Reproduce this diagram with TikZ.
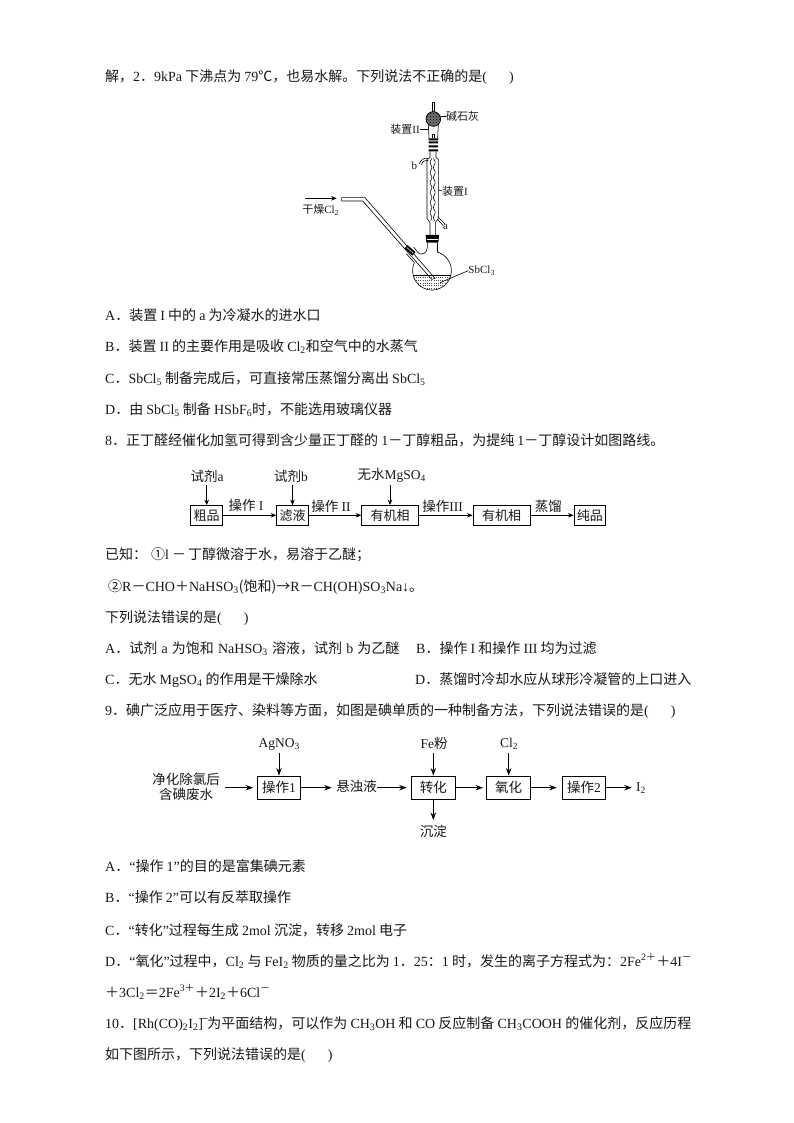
\documentclass[tikz,border=0pt]{standalone}
\usepackage{fontspec}
\usetikzlibrary{arrows.meta,patterns}
\setmainfont{Noto Sans CJK SC}
\newfontfamily\latf{Liberation Serif}
\newcommand{\lat}[1]{{\latf #1}}
\definecolor{txt}{gray}{0.1}
\tikzset{
  line/.style={anchor=base west,inner sep=0pt,text=txt,font=\fontsize{14}{16}\selectfont},
  lab/.style={inner sep=0pt,text=txt,font=\fontsize{13.5}{15.5}\selectfont,align=center},
  labs/.style={inner sep=0pt,text=txt,font=\fontsize{11}{13}\selectfont},
  boxa/.style={draw=black,line width=0.8pt,inner sep=0pt,text=txt,font=\fontsize{13}{15}\selectfont,minimum height=19.5pt},
  boxb/.style={draw=black,line width=0.8pt,inner sep=0pt,text=txt,font=\fontsize{13.5}{15}\selectfont,minimum height=23.5pt},
  arr/.style={line width=0.7pt,-{Stealth[length=5.5pt,width=4.5pt]}},
  arrb/.style={line width=0.8pt,-{Stealth[length=7.5pt,width=5.5pt]}},
  glass/.style={line width=0.6pt,line join=round},
  lead/.style={line width=0.6pt},
}
\begin{document}
\begin{tikzpicture}[x=1pt,y=-1pt]
\useasboundingbox[fill=white] (0,0) rectangle (794,1123);
% body text
\node[line] (l1) at (105,82) {解，\lat{2}．\lat{9kPa} 下沸点为 \lat{79}℃，也易水解。下列说法不正确的是\lat{(\hspace{22pt})}};
\node[line] (l2) at (105,320) {\lat{A}．装置 \lat{I} 中的 \lat{a} 为冷凝水的进水口};
\node[line] (l3) at (105,351) {\lat{B}．装置 \lat{II} 的主要作用是吸收 \lat{Cl\textsubscript{2}}和空气中的水蒸气};
\node[line] (l4) at (105,383) {\lat{C}．\lat{SbCl\textsubscript{5}} 制备完成后，可直接常压蒸馏分离出 \lat{SbCl\textsubscript{5}}};
\node[line] (l5) at (105,414) {\lat{D}．由 \lat{SbCl\textsubscript{5}} 制备 \lat{HSbF\textsubscript{6}}时，不能选用玻璃仪器};
\node[line] (l6) at (105,445) {\lat{8}．正丁醛经催化加氢可得到含少量正丁醛的 \lat{1}－丁醇粗品，为提纯 \lat{1}－丁醇设计如图路线。};
\node[line] (l7) at (105,559) {已知：\hspace{4pt}①\lat{l}\hspace{3pt}－\hspace{2pt}丁醇微溶于水，易溶于乙醚；};
\node[line] (l8) at (108,591) {②\lat{R}－\lat{CHO}＋\lat{NaHSO\textsubscript{3}}(饱和)→\lat{R}－\lat{CH(OH)SO\textsubscript{3}Na↓}。};
\node[line] (l9) at (105,622) {下列说法错误的是\lat{(\hspace{22pt})}};
\node[line] (l10) at (105,653) {\spaceskip=4.2pt \lat{A}．试剂 \lat{a} 为饱和 \lat{NaHSO\textsubscript{3}} 溶液，试剂 \lat{b} 为乙醚};
\node[line] (l10b) at (416,653) {\lat{B}．操作 \lat{I} 和操作 \lat{III} 均为过滤};
\node[line] (l11) at (105,684) {\lat{C}．无水 \lat{MgSO\textsubscript{4}} 的作用是干燥除水};
\node[line] (l11b) at (415,684) {\lat{D}．蒸馏时冷却水应从球形冷凝管的上口进入};
\node[line] (l12) at (105,715) {\lat{9}．碘广泛应用于医疗、染料等方面，如图是碘单质的一种制备方法，下列说法错误的是\lat{(\hspace{22pt})}};
\node[line] (l13) at (105,871) {\lat{A}．\lat{“}操作 \lat{1”}的目的是富集碘元素};
\node[line] (l14) at (105,902) {\lat{B}．\lat{“}操作 \lat{2”}可以有反萃取操作};
\node[line] (l15) at (105,935) {\lat{C}．\lat{“}转化\lat{”}过程每生成 \lat{2mol} 沉淀，转移 \lat{2mol} 电子};
\node[line] (l16) at (105,966) {\lat{D}．\lat{“}氧化\lat{”}过程中，\lat{Cl\textsubscript{2}} 与 \lat{FeI\textsubscript{2}} 物质的量之比为 \lat{1}．\lat{25}：\lat{1} 时，发生的离子方程式为：\lat{2Fe}\textsuperscript{\lat{2}＋}＋\lat{4I}\textsuperscript{－}};
\node[line] (l17) at (105,997) {＋\lat{3Cl\textsubscript{2}}＝\lat{2Fe}\textsuperscript{\lat{3}＋}＋\lat{2I\textsubscript{2}}＋\lat{6Cl}\textsuperscript{－}};
\node[line] (l18) at (105,1028) {\lat{10}．\lat{[Rh(CO)\textsubscript{2}I\textsubscript{2}]}\hspace{-4pt}\textsuperscript{－}\hspace{-2pt}为平面结构，可以作为 \lat{CH\textsubscript{3}OH} 和 \lat{CO} 反应制备 \lat{CH\textsubscript{3}COOH} 的催化剂，反应历程};
\node[line] (l19) at (105,1059) {如下图所示，下列说法错误的是\lat{(\hspace{22pt})}};
% route diagram 8
\node[boxa,minimum width=32pt] (a1) at (206.7,515.3) {粗品};
\node[boxa,minimum width=31.6pt] (a2) at (292.5,515.3) {滤液};
\node[boxa,minimum width=56.6pt] (a3) at (390,515.3) {有机相};
\node[boxa,minimum width=57pt] (a4) at (501.5,515.3) {有机相};
\node[boxa,minimum width=31.7pt] (a5) at (589.8,515.3) {纯品};
\node[lab] (ra) at (207,476.7) {试剂\lat{a}};
\node[lab] (rb) at (291,476.7) {试剂\lat{b}};
\node[lab] (rc) at (391.7,475) {无水\lat{MgSO\textsubscript{4}}};
\coordinate (ra1) at (206.7,485);
\coordinate (rb1) at (292.5,485);
\coordinate (rc1) at (390,485);
\draw[arr] (ra1) -- (a1.north);
\draw[arr] (rb1) -- (a2.north);
\draw[arr] (rc1) -- (a3.north);
\draw[arr] (a1) -- (a2);
\draw[arr] (a2) -- (a3);
\draw[arr] (a3) -- (a4);
\draw[arr] (a4) -- (a5);
\node[lab] (o1) at (246,505) {操作 \lat{I}};
\node[lab] (o2) at (331,506.7) {操作 \lat{II}};
\node[lab] (o3) at (442.7,506.7) {操作\lat{III}};
\node[lab] (o4) at (548.3,506.7) {蒸馏};
% route diagram 9
\node[lab] (b0) at (186,786.7) {净化除氯后\\含碘废水};
\node[boxb,minimum width=43.4pt] (b1) at (279,787.7) {操作\lat{1}};
\node[lab] (b2) at (356.7,786.7) {悬浊液};
\node[boxb,minimum width=43.3pt] (b3) at (433.3,787.7) {转化};
\node[boxb,minimum width=44pt] (b4) at (508.7,787.7) {氧化};
\node[boxb,minimum width=42.6pt] (b5) at (584,787.7) {操作\lat{2}};
\node[lab] (b6) at (641,788) {\lat{I\textsubscript{2}}};
\node[lab] (t1) at (279.3,744) {\lat{AgNO\textsubscript{3}}};
\node[lab] (t3) at (434,743.3) {\lat{Fe}粉};
\node[lab] (t4) at (509,744) {\lat{Cl\textsubscript{2}}};
\node[lab] (t5) at (433.3,831.7) {沉淀};
\coordinate (t1a) at (279,752.5);
\coordinate (t3a) at (433.3,752.5);
\coordinate (t4a) at (508.7,752.5);
\coordinate (t5a) at (433.3,820);
\draw[arrb] (t1a) -- (b1.north);
\draw[arrb] (t3a) -- (b3.north);
\draw[arrb] (t4a) -- (b4.north);
\draw[arrb] (b3.south) -- (t5a);
\coordinate (c0) at (225,787.7);
\coordinate (c1) at (253,787.7);
\coordinate (c2) at (331.7,787.7);
\coordinate (c3) at (377,787.7);
\coordinate (c4) at (406.7,787.7);
\coordinate (c5) at (483,787.7);
\coordinate (c6) at (556.7,787.7);
\coordinate (c7) at (631.7,787.7);
\draw[arrb] (c0) -- (c1);
\draw[arrb] (b1.east) -- (c2);
\draw[arrb] (c3) -- (c4);
\draw[arrb] (b3.east) -- (c5);
\draw[arrb] (b4.east) -- (c6);
\draw[arrb] (b5.east) -- (c7);
% apparatus, in zoom coordinates
\begin{scope}[shift={(280,90)},x=0.33333pt,y=-0.33333pt]
 % top tube and bulb
 \draw[glass] (456,68) -- (456,36) -- (464,36) -- (464,68);
 \draw[glass] (445,103) -- (447,145) (475,103) -- (473,145);
 \draw[glass] (456,145) -- (456,132) -- (464,132) -- (464,145);
 \fill[black!55] (460,87) circle (22);
 \fill[pattern=crosshatch dots,pattern color=black] (460,87) circle (22);
 \draw[line width=0.7pt] (460,87) circle (22);
 \fill[black] (446,145) rectangle (474,151) (446,154) rectangle (474,160) (446,166) rectangle (474,172) (446,178) rectangle (474,184);
 % condenser
 \draw[glass] (450,184) -- (450,203) -- (441,208) -- (441,385) -- (450,398) -- (450,435);
 \draw[glass] (468,184) -- (468,203) -- (475,208) -- (475,385) -- (466,398) -- (466,435);
 \draw[glass,domain=205:392,samples=90,smooth] plot ({458-5-2.5*sin(\x*12)},\x);
 \draw[glass,domain=205:392,samples=90,smooth] plot ({458+5+2.5*sin(\x*12)},\x);
 \draw[glass] (445,205) .. controls (432,203) and (424,208) .. (418,221);
 \draw[glass] (445,211) .. controls (436,209) and (428,214) .. (424,224);
 \draw[glass] (473,380) -- (495,402) (472,388) -- (490,407);
 % big stopper
 \fill[black] (437,435) -- (477,435) -- (475,458) -- (439,458) -- cycle;
 \draw[white,line width=0.6pt] (441,447) -- (473,447);
 % flask
 \draw[glass] (472,458) -- (472,486);
 \draw[glass,domain=74:-205,samples=90] plot ({456+58*cos(\x)},{542-58*sin(\x)});
 \draw[glass] (379,491) -- (402,517);
 \draw[glass] (401,471) -- (414,488) .. controls (425,498) and (442,490) .. (442,472) -- (442,458);
 % liquid
 \draw[glass] (399.5,555) -- (512.5,555);
 \begin{scope}
  \clip (456,542) circle (57);
  \foreach \yy in {563,571,579,587,595}
   \draw[black!70,line width=0.4pt,dash pattern=on 0.8pt off 1.4pt] (395,\yy) -- (517,\yy);
 \end{scope}
 % inlet tube
 \draw[glass] (185,323) -- (255,323) -- (465,565) -- (455,568) -- (248,333) -- (185,333) -- cycle;
 % side stopper
 \fill[black,rotate around={-41:(390,481)}] (374,474) rectangle (406,488);
 \draw[white,line width=0.5pt,rotate around={-41:(390,481)}] (377,481) -- (403,481);
 % flow arrow in
 \coordinate (ca) at (75,325);
 \coordinate (cb) at (170,325);
 \draw[arr] (ca) -- (cb);
 % labels
 \node[labs] (g1) at (122,360) {干燥\lat{Cl\textsubscript{2}}};
 \node[labs] (g2) at (605,542) {\lat{SbCl\textsubscript{3}}};
 \node[labs] (g3) at (548,80) {碱石灰};
 \node[labs] (g4) at (375,118) {装置\lat{II}};
 \node[labs] (g5) at (525,303) {装置\lat{I}};
 \node[labs] (g6) at (403,226) {\lat{b}};
 \node[labs] (g7) at (497,412) {\lat{a}};
 \coordinate (p2) at (480,578);
 \coordinate (p3) at (482,80);
 \coordinate (p4) at (445,118);
 \coordinate (p5) at (475,300);
 \draw[lead] (p2) -- (g2.west);
 \draw[lead] (p3) -- (g3.west);
 \draw[lead] (p4) -- (g4.east);
 \draw[lead] (p5) -- (g5.west);
\end{scope}
\end{tikzpicture}
\end{document}
